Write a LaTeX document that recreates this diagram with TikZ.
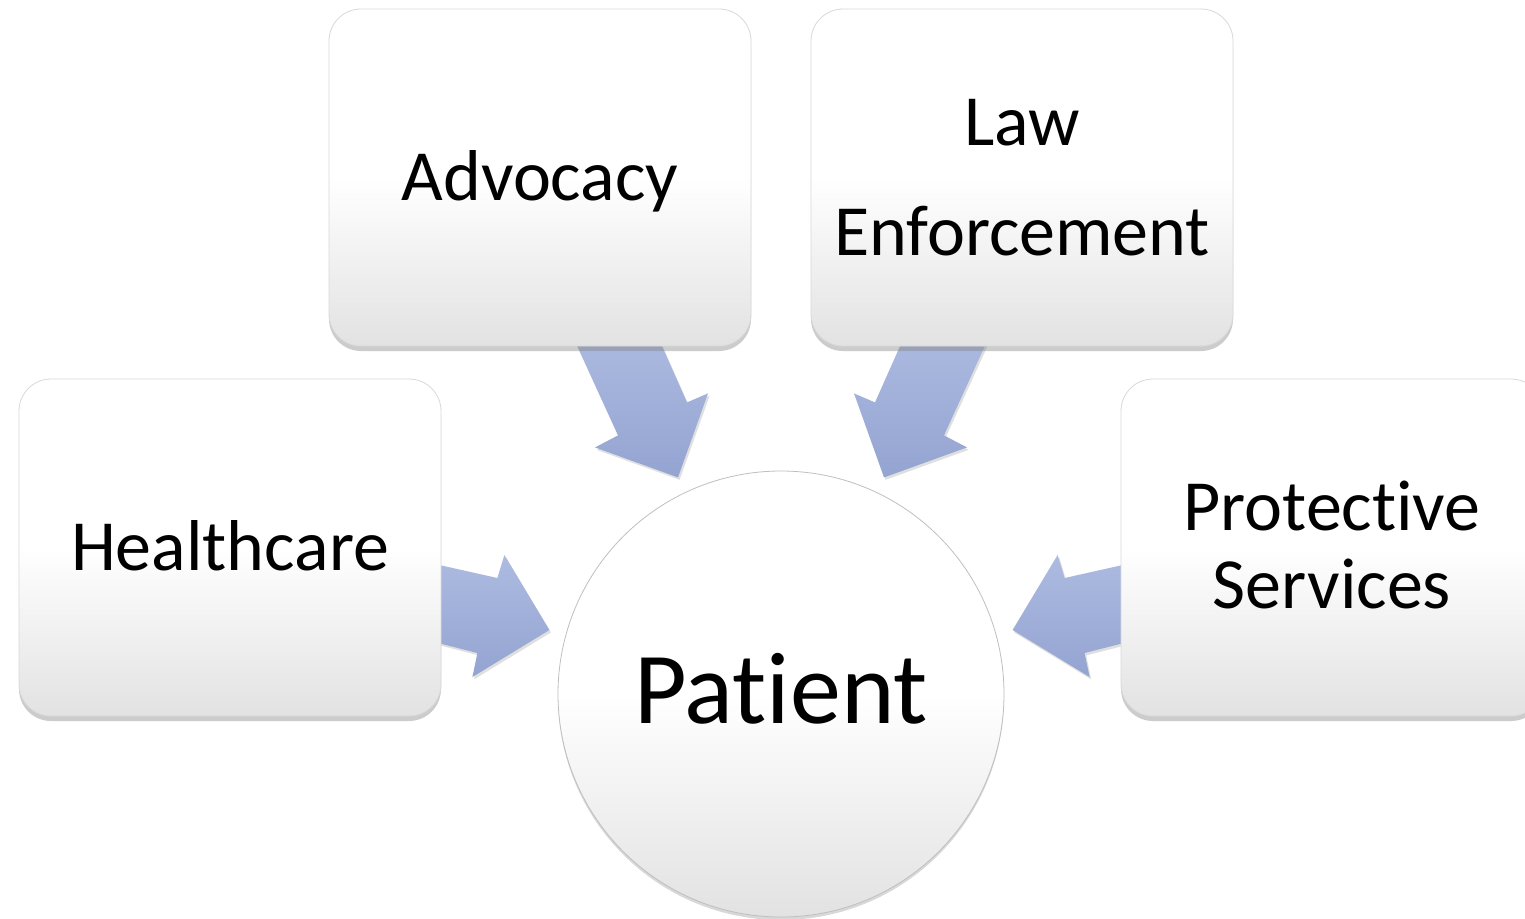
\documentclass[tikz,border=0pt]{standalone}
\usepackage{fontspec}
\setmainfont{Carlito}[Ligatures={NoCommon,NoRare,NoContextual},RawFeature={-liga;-clig;-dlig}]
\usetikzlibrary{shadows,calc}
\definecolor{arrtop}{HTML}{ADBBE1}
\definecolor{arrbot}{HTML}{94A4D1}
\definecolor{boxbot}{HTML}{E2E2E2}
\pgfdeclarelayer{background}
\pgfsetlayers{background,main}
\begin{document}
\begin{tikzpicture}[x=0.5pt,y=-0.5pt,
  boxstyle/.style={rectangle, rounded corners=16pt, minimum width=211pt, minimum height=168.5pt,
    draw=black!15, line width=0.4pt, top color=white, bottom color=boxbot, middle color=white,
    drop shadow={shadow xshift=0pt,shadow yshift=-2.5pt,opacity=0.4}},
  circstyle/.style={circle, minimum size=223pt, inner sep=0pt, draw=black!25, line width=0.4pt,
    top color=white, bottom color=boxbot, middle color=white,
    drop shadow={shadow xshift=0pt,shadow yshift=-1.5pt,opacity=0.3}},
  arrowstyle/.style={top color=arrtop, bottom color=arrbot,
    drop shadow={shadow xshift=0.8pt,shadow yshift=-1.2pt,opacity=0.25}},
  txt/.style={font=\fontsize{36}{36}\selectfont, anchor=base, inner sep=0pt},
  bigtxt/.style={font=\fontsize{51}{51}\selectfont, anchor=base, inner sep=0pt}]
\useasboundingbox (0,0) rectangle (1525,918);
\begin{pgfonlayer}{background}
\fill[white] (0,0) rectangle (1525,918);
\end{pgfonlayer}

% boxes
\node[boxstyle] (adv) at (540,177.5) {};
\node[boxstyle] (law) at (1022,177.5) {};
\node[boxstyle] (hc) at (230,547.5) {};
\node[boxstyle] (ps) at (1332,547.5) {};
\node[circstyle] (pat) at (781,694) {};

% block arrows (behind the boxes)
\begin{pgfonlayer}{background}
\begin{scope}[shift={(adv.south)}]
\path[arrowstyle] (30,-16) -- (115,-16) -- (147,56) -- (168,47) -- (138,131) -- (55,101) -- (78,89) -- cycle;
\end{scope}
\begin{scope}[shift={(law.south)}]
\path[arrowstyle] (-30,-16) -- (-115,-16) -- (-147,56) -- (-168,47) -- (-138,131) -- (-55,101) -- (-78,89) -- cycle;
\end{scope}
\begin{scope}[shift={(hc.east)}]
\path[arrowstyle] (-11,15.5) -- (56,30.5) -- (63,7.5) -- (108,82.5) -- (31,129.5) -- (36,105.5) -- (-11,93.5) -- cycle;
\end{scope}
\begin{scope}[shift={(ps.west)}]
\path[arrowstyle] (11,15.5) -- (-56,30.5) -- (-63,7.5) -- (-108,82.5) -- (-31,129.5) -- (-36,105.5) -- (11,93.5) -- cycle;
\end{scope}
\end{pgfonlayer}

% texts
\node[txt] (tadv) at (540,200) {Advocacy};
\node[txt] (tlaw1) at (1022,145) {Law};
\node[txt] (tlaw2) at (1022,255) {Enforcement};
\node[txt] (thc) at (230,570) {Healthcare};
\node[txt] (tps1) at (1332,530) {Protective};
\node[txt] (tps2) at (1332,608) {Services};
\node[bigtxt] (tpat) at (781,723) {Patient};
\end{tikzpicture}
\end{document}
